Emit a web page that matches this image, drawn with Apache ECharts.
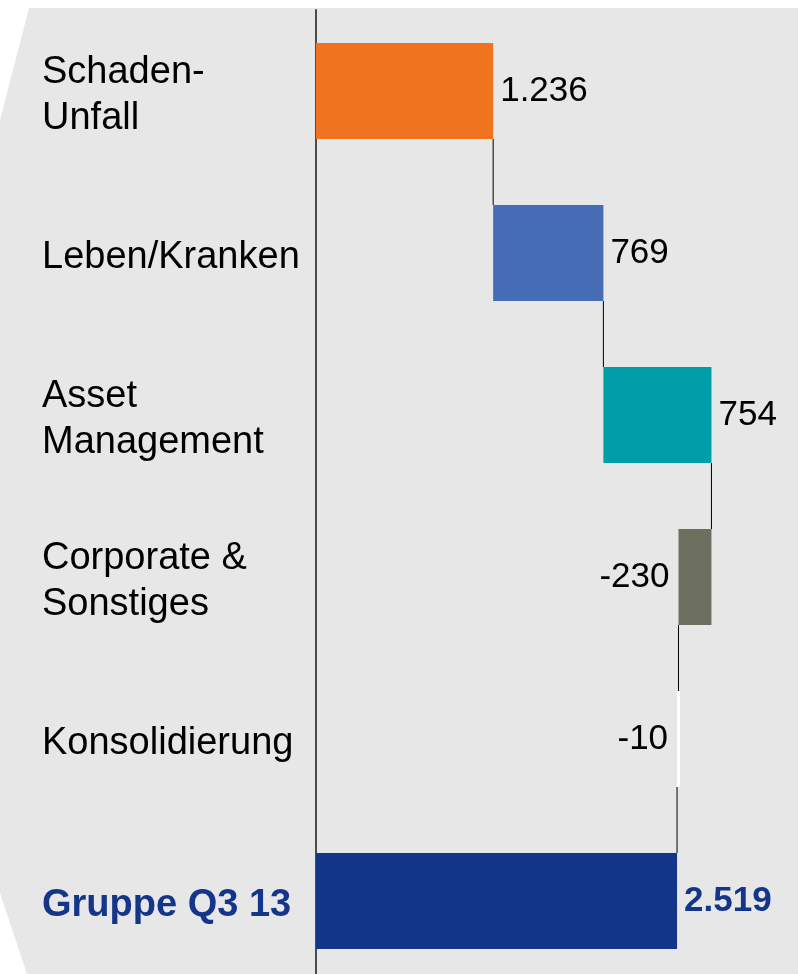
<!DOCTYPE html>
<html>
<head>
<meta charset="utf-8">
<script src="https://cdn.jsdelivr.net/npm/echarts@6/dist/echarts.min.js"></script>
<style>
  html, body { margin: 0; padding: 0; background: #fff; }
  #chart { width: 798px; height: 974px; }
</style>
</head>
<body>
<div id="chart"></div>
<script>
// Daten
const categories = ['Schaden-\nUnfall', 'Leben/Kranken', 'Asset\nManagement', 'Corporate &\nSonstiges', 'Konsolidierung', 'Gruppe Q3 13'];
const values = [1236, 769, 754, -230, -10, 2519];
const valueLabels = ['1.236', '769', '754', '-230', '-10', '2.519'];
const isTotal = [false, false, false, false, false, true];
const barColors = ['#f07320', '#466cb5', '#009ea8', '#6e705f', '#ffffff', '#13358a'];

const FONT = '"Liberation Sans", Arial, sans-serif';

// Wasserfall: unsichtbare Basis + sichtbares Segment
let running = 0;
const baseData = [];
const segData = [];
const connectors = [];
values.forEach((v, i) => {
  let base, len;
  if (isTotal[i]) {
    base = 0; len = v;
  } else if (v >= 0) {
    base = running; len = v; running += v;
  } else {
    running += v; base = running; len = -v;
  }
  baseData.push(base);
  const neg = v < 0;
  segData.push({
    value: len,
    itemStyle: { color: barColors[i] },
    label: {
      show: true,
      position: neg ? 'left' : 'right',
      distance: neg ? 9 : 7,
      formatter: valueLabels[i],
      fontSize: 35,
      fontFamily: FONT,
      fontWeight: isTotal[i] ? 'bold' : 'normal',
      color: isTotal[i] ? '#13358a' : '#000'
    }
  });
  if (i < values.length - 1) connectors.push([i, isTotal[i] ? v : running]);
});

const chart = echarts.init(document.getElementById('chart'));
chart.setOption({
  animation: false,
  graphic: [{
    type: 'polygon',
    silent: true,
    z: -10,
    shape: { points: [[29, 8], [798, 8], [798, 974], [27, 974], [0, 893], [0, 120]] },
    style: { fill: '#e7e7e7' }
  }],
  grid: { left: 316, top: 10, width: 430, height: 972, outerBoundsMode: 'none', containLabel: false },
  xAxis: {
    type: 'value',
    min: 0,
    max: 3000,
    show: false
  },
  yAxis: {
    type: 'category',
    inverse: true,
    data: categories,
    axisLine: { show: true, lineStyle: { color: '#4d4d4d', width: 2 } },
    axisTick: { show: false },
    axisLabel: {
      align: 'left',
      margin: 274,
      fontSize: 38,
      lineHeight: 46,
      padding: [10, 0, 0, 0],
      fontFamily: FONT,
      color: '#000',
      formatter: (val, idx) => isTotal[idx] ? '{g|' + val + '}' : val,
      rich: {
        g: { fontSize: 38, fontWeight: 'bold', color: '#13358a', fontFamily: FONT }
      }
    }
  },
  series: [
    {
      type: 'bar',
      stack: 'w',
      barWidth: 96,
      itemStyle: { color: 'transparent' },
      data: baseData,
      silent: true
    },
    {
      type: 'bar',
      stack: 'w',
      barWidth: 96,
      barMinHeight: 3,
      data: segData
    },
    {
      type: 'custom',
      encode: { x: 1, y: 0 },
      data: connectors,
      z: 5,
      renderItem: (params, api) => {
        const p = api.coord([api.value(1), api.value(0)]);
        const band = api.size([0, 1])[1];
        const half = 48;
        return {
          type: 'line',
          shape: { x1: p[0], y1: p[1] + half, x2: p[0], y2: p[1] + band - half },
          style: { stroke: '#000', lineWidth: 1 }
        };
      }
    }
  ]
});
</script>
</body>
</html>
